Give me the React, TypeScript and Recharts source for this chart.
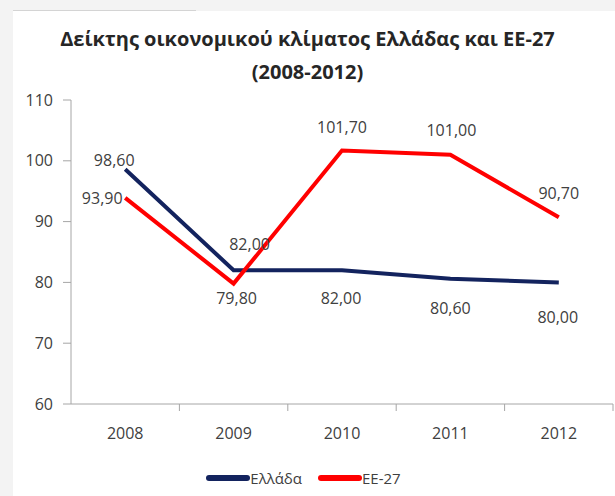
import React from 'react';
import { LineChart, Line, XAxis, YAxis, Legend, LabelList } from 'recharts';

const years = ['2008', '2009', '2010', '2011', '2012'];
const greece = [98.6, 82.0, 82.0, 80.6, 80.0];
const eu27 = [93.9, 79.8, 101.7, 101.0, 90.7];
const yTicks = [60, 70, 80, 90, 100, 110];
const seriesNames = ['Ελλάδα', 'ΕΕ-27'];
const titleLines = ['Δείκτης οικονομικού κλίματος Ελλάδας και ΕΕ-27', '(2008-2012)'];

const data = years.map((y, i) => ({ year: y, greece: greece[i], eu27: eu27[i] }));

// label placement (style only): [dx, dy] from the point
const greeceLabelOffsets = [[-11, -9], [16, -26], [-1, 28], [0, 29], [-1, 35]];
const euLabelOffsets = [[-23, 0], [3, 14], [0, -23], [1, -25], [0, -24]];

const CHART_W = 615;
const CHART_H = 496;
const MARGIN = { top: 100, right: 2, bottom: 52, left: 31 };
const YAXIS_W = 40;
const BAND = (CHART_W - MARGIN.left - MARGIN.right - YAXIS_W) / years.length;

const FONT = '"Open Sans", sans-serif';
const TEXT = '#404040';
const AXIS = '#a6a6a6';
const NAVY = '#13235e';
const RED = '#ff0000';

const fmt = (v: number) => v.toFixed(2).replace('.', ',');

const makeLabel = (offsets: number[][]) => (props: any) => {
  const { x, y, value, index } = props;
  const [dx, dy] = offsets[index] || [0, 0];
  return (
    <text
      x={x + dx}
      y={y + dy}
      textAnchor="middle"
      dominantBaseline="central"
      fill={TEXT}
      fontSize={16}
      fontFamily={FONT}
    >
      {fmt(Number(value))}
    </text>
  );
};

const XTick = (props: any) => {
  const { x, y, payload } = props;
  return (
    <g>
      <line x1={x + BAND / 2} x2={x + BAND / 2} y1={y} y2={y + 7} stroke={AXIS} strokeWidth={1} />
      <text
        x={x}
        y={y + 29}
        textAnchor="middle"
        dominantBaseline="central"
        fill={TEXT}
        fontSize={16}
        fontFamily={FONT}
      >
        {payload.value}
      </text>
    </g>
  );
};

const LegendContent = (props: any) => {
  const payload = [...(props.payload || [])].sort(
    (a: any, b: any) => seriesNames.indexOf(a.value) - seriesNames.indexOf(b.value)
  );
  return (
    <div style={{ display: 'flex', justifyContent: 'center', alignItems: 'center', paddingRight: 8 }}>
      {payload.map((p: any, i: number) => (
        <div key={i} style={{ display: 'flex', alignItems: 'center', marginRight: i === 0 ? 16 : 0 }}>
          <svg width={44} height={10}>
            <line x1={3} x2={41} y1={5} y2={5} stroke={p.color} strokeWidth={6} strokeLinecap="round" />
          </svg>
          <span style={{ fontFamily: FONT, fontSize: 15, color: TEXT }}>{p.value}</span>
        </div>
      ))}
    </div>
  );
};

export default function App() {
  return (
    <div style={{ position: 'absolute', left: 0, top: 0, width: CHART_W, height: CHART_H, background: '#f3f3f3', overflow: 'hidden' }}>
      <div style={{ position: 'absolute', left: 13, top: 11, right: 0, bottom: 0, background: '#ffffff' }} />
      <div style={{ position: 'absolute', left: 13, top: 10, width: 183, height: 1, background: '#d4d4d4' }} />
      <div
        style={{
          position: 'absolute',
          left: 0,
          width: 615,
          top: 22,
          textAlign: 'center',
          fontFamily: FONT,
          fontWeight: 700,
          fontSize: 20,
          lineHeight: '33px',
          color: '#262626',
        }}
      >
        <div>{titleLines[0]}</div>
        <div>{titleLines[1]}</div>
      </div>
      <div style={{ position: 'absolute', left: 0, top: 0 }}>
        <LineChart width={CHART_W} height={CHART_H} data={data} margin={MARGIN}>
          <XAxis
            dataKey="year"
            scale="band"
            axisLine={{ stroke: AXIS }}
            tickLine={false}
            tickSize={0}
            tickMargin={0}
            height={40}
            tick={<XTick />}
            interval={0}
          />
          <YAxis
            domain={[60, 110]}
            ticks={yTicks}
            width={YAXIS_W}
            tickSize={8}
            tickMargin={10}
            axisLine={{ stroke: AXIS }}
            tickLine={{ stroke: AXIS }}
            tick={{ fill: TEXT, fontSize: 16, fontFamily: FONT }}
            interval={0}
          />
          <Legend
            verticalAlign="middle"
            layout="horizontal"
            align="center"
            wrapperStyle={{ top: 468, left: 0, width: 615 }}
            content={<LegendContent />}
          />
          <Line
            type="linear"
            dataKey="greece"
            name={seriesNames[0]}
            stroke={NAVY}
            strokeWidth={4}
            dot={false}
            activeDot={false}
            isAnimationActive={false}
          >
            <LabelList dataKey="greece" content={makeLabel(greeceLabelOffsets)} />
          </Line>
          <Line
            type="linear"
            dataKey="eu27"
            name={seriesNames[1]}
            stroke={RED}
            strokeWidth={4}
            dot={false}
            activeDot={false}
            isAnimationActive={false}
          >
            <LabelList dataKey="eu27" content={makeLabel(euLabelOffsets)} />
          </Line>
        </LineChart>
      </div>
    </div>
  );
}
